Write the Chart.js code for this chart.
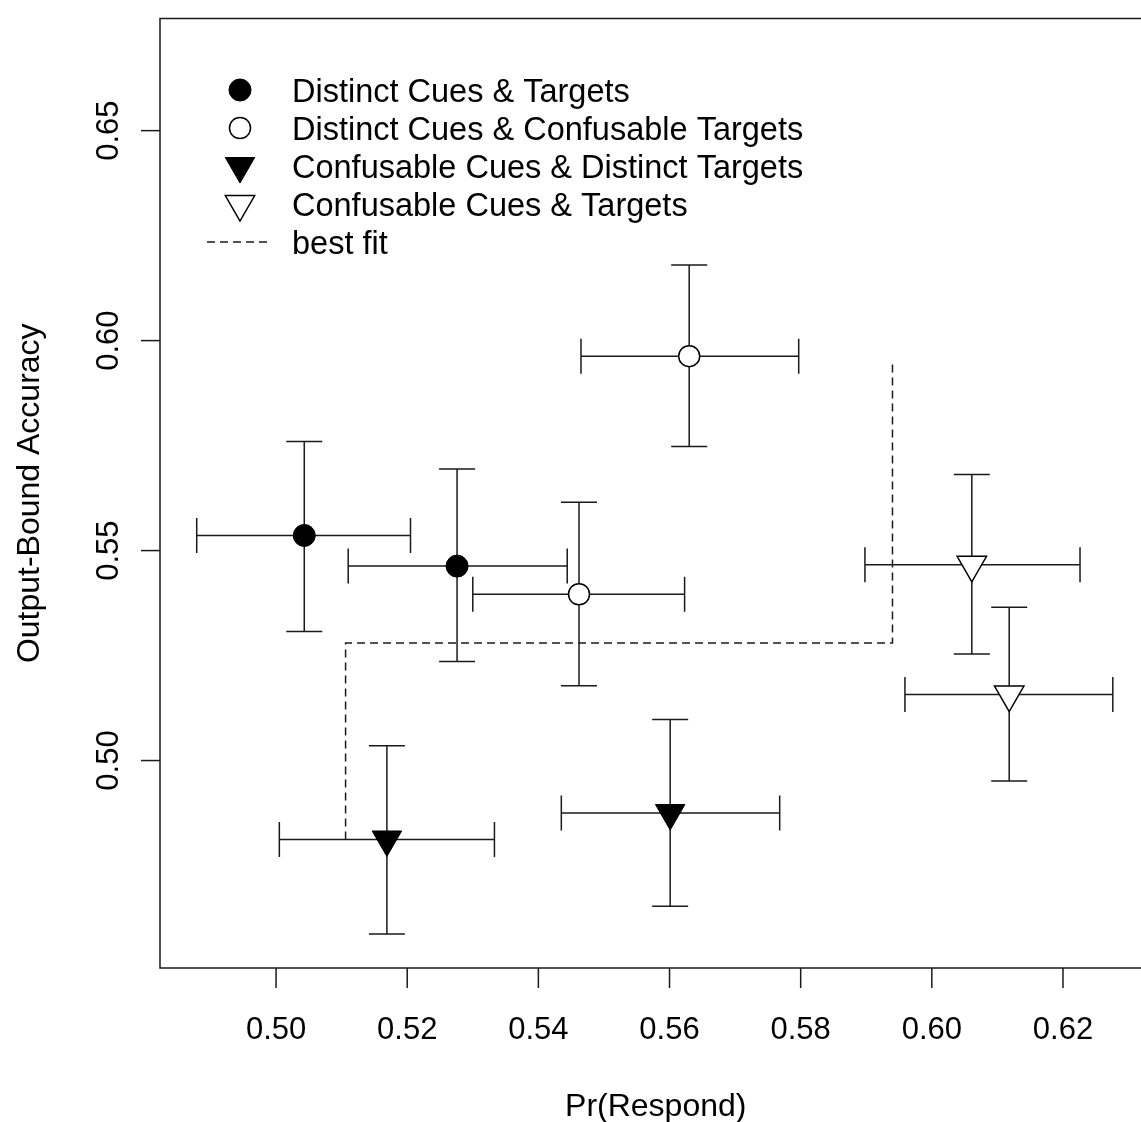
<!DOCTYPE html>
<html>
<head>
<meta charset="utf-8">
<script src="https://cdn.jsdelivr.net/npm/chart.js@4/dist/chart.umd.min.js"></script>
<style>
  html, body { margin: 0; padding: 0; overflow: hidden; background: #fff; }
  #wrap { width: 1170px; height: 1122px; }
</style>
</head>
<body>
<div id="wrap"><canvas id="chart" width="1170" height="1122"></canvas></div>
<script>
// Output-bound accuracy vs Pr(Respond), two items per condition, with SE bars.
const conditions = [
  "Distinct Cues & Targets",
  "Distinct Cues & Confusable Targets",
  "Confusable Cues & Distinct Targets",
  "Confusable Cues & Targets",
];

// Pr(Respond): mean, lower and upper end of the horizontal bar
const respond   = [[0.5043, 0.5276], [0.5630, 0.5462], [0.5169, 0.5601], [0.6061, 0.6118]];
const respondLo = [[0.4879, 0.5110], [0.5465, 0.5300], [0.5005, 0.5435], [0.5898, 0.5959]];
const respondHi = [[0.5205, 0.5444], [0.5797, 0.5623], [0.5333, 0.5768], [0.6226, 0.6276]];

// Output-bound accuracy: mean, lower and upper end of the vertical bar
const accuracy   = [[0.5536, 0.5463], [0.5963, 0.5396], [0.4812, 0.4875], [0.5466, 0.5157]];
const accuracyLo = [[0.5307, 0.5236], [0.5748, 0.5178], [0.4587, 0.4653], [0.5254, 0.4951]];
const accuracyHi = [[0.5760, 0.5694], [0.6180, 0.5615], [0.5035, 0.5098], [0.5681, 0.5365]];

// step-shaped best fit
const fitX = [0.5106, 0.5106, 0.5940, 0.5940];
const fitY = [0.4812, 0.5280, 0.5280, 0.5952];

const xTicks = [0.50, 0.52, 0.54, 0.56, 0.58, 0.60, 0.62];
const yTicks = [0.50, 0.55, 0.60, 0.65];

const FONT = '"Liberation Sans", Arial, Helvetica, sans-serif';
const INK = "#1a1a1a";

// marker look per condition: filled circle, open circle, filled / open down triangle
const markers = [
  { pointStyle: "circle",   radius: 11,   rotation: 0,   fill: "#000", border: "#000", width: 1 },
  { pointStyle: "circle",   radius: 10.5, rotation: 0,   fill: "#fff", border: "#000", width: 1.5 },
  { pointStyle: "triangle", radius: 17,   rotation: 180, fill: "#000", border: "#000", width: 1 },
  { pointStyle: "triangle", radius: 17,   rotation: 180, fill: "#fff", border: "#000", width: 1.5 },
];

const datasets = conditions.map((name, i) => ({
  label: name,
  data: respond[i].map((x, j) => ({ x, y: accuracy[i][j] })),
  pointStyle: markers[i].pointStyle,
  pointRadius: markers[i].radius,
  pointRotation: markers[i].rotation,
  backgroundColor: markers[i].fill,
  borderColor: markers[i].border,
  borderWidth: markers[i].width,
  showLine: false,
}));

datasets.push({
  label: "best fit",
  type: "line",
  data: fitX.map((x, i) => ({ x, y: fitY[i] })),
  borderColor: INK,
  borderWidth: 1.5,
  borderDash: [8, 5],
  pointRadius: 0,
  fill: false,
  tension: 0,
});

function drawMarker(ctx, m, x, y) {
  ctx.save();
  ctx.fillStyle = m.fill;
  ctx.strokeStyle = m.border;
  ctx.lineWidth = m.width;
  ctx.beginPath();
  if (m.pointStyle === "circle") {
    ctx.arc(x, y, m.radius, 0, Math.PI * 2);
  } else {
    const r = m.radius;
    let a = (m.rotation * Math.PI) / 180;
    for (let k = 0; k < 3; k++) {
      const px = x + Math.sin(a) * r, py = y - Math.cos(a) * r;
      k === 0 ? ctx.moveTo(px, py) : ctx.lineTo(px, py);
      a += (2 * Math.PI) / 3;
    }
    ctx.closePath();
  }
  ctx.fill();
  ctx.stroke();
  ctx.restore();
}

// error bars under the markers
const errorBars = {
  id: "errorBars",
  beforeDatasetsDraw(chart) {
    const { ctx } = chart;
    const xs = chart.scales.x, ys = chart.scales.y;
    ctx.save();
    ctx.strokeStyle = INK;
    ctx.lineWidth = 1.5;
    conditions.forEach((_, i) => {
      respond[i].forEach((xv, j) => {
        const cx = xs.getPixelForValue(xv);
        const cy = ys.getPixelForValue(accuracy[i][j]);
        const x0 = xs.getPixelForValue(respondLo[i][j]);
        const x1 = xs.getPixelForValue(respondHi[i][j]);
        const y0 = ys.getPixelForValue(accuracyHi[i][j]);
        const y1 = ys.getPixelForValue(accuracyLo[i][j]);
        ctx.beginPath();
        ctx.moveTo(x0, cy); ctx.lineTo(x1, cy);
        ctx.moveTo(x0, cy - 17.5); ctx.lineTo(x0, cy + 17.5);
        ctx.moveTo(x1, cy - 17.5); ctx.lineTo(x1, cy + 17.5);
        ctx.moveTo(cx, y0); ctx.lineTo(cx, y1);
        ctx.moveTo(cx - 18, y0); ctx.lineTo(cx + 18, y0);
        ctx.moveTo(cx - 18, y1); ctx.lineTo(cx + 18, y1);
        ctx.stroke();
      });
    });
    ctx.restore();
  },
};

// R-style frame, ticks, labels and the legend in the top-left corner
const frame = {
  id: "frame",
  afterDraw(chart) {
    const { ctx, chartArea: a } = chart;
    const xs = chart.scales.x, ys = chart.scales.y;
    ctx.save();
    ctx.strokeStyle = INK;
    ctx.fillStyle = "#000";
    ctx.lineWidth = 1.5;
    ctx.strokeRect(a.left, a.top, a.right - a.left, a.bottom - a.top);

    ctx.font = "31px " + FONT;
    ctx.textAlign = "center";
    ctx.textBaseline = "alphabetic";
    xTicks.forEach((v) => {
      const px = xs.getPixelForValue(v);
      ctx.beginPath();
      ctx.moveTo(px, a.bottom); ctx.lineTo(px, a.bottom + 20);
      ctx.stroke();
      ctx.fillText(v.toFixed(2), px, 1039);
    });
    yTicks.forEach((v) => {
      const py = ys.getPixelForValue(v);
      ctx.beginPath();
      ctx.moveTo(a.left, py); ctx.lineTo(a.left - 19, py);
      ctx.stroke();
      ctx.save();
      ctx.translate(118, py);
      ctx.rotate(-Math.PI / 2);
      ctx.fillText(v.toFixed(2), 0, 0);
      ctx.restore();
    });

    ctx.font = "32px " + FONT;
    ctx.fillText("Pr(Respond)", (a.left + a.right) / 2, 1116);
    ctx.save();
    ctx.translate(39, (a.top + a.bottom) / 2);
    ctx.rotate(-Math.PI / 2);
    ctx.fillText("Output-Bound Accuracy", 0, 0);
    ctx.restore();

    // legend
    ctx.font = "32.5px " + FONT;
    ctx.textAlign = "left";
    const rowY = [90, 128, 166, 204, 242];
    conditions.forEach((name, i) => {
      drawMarker(ctx, markers[i], 240, rowY[i]);
      ctx.fillStyle = "#000";
      ctx.fillText(name, 292, rowY[i] + 12);
    });
    ctx.save();
    ctx.setLineDash([8, 5]);
    ctx.beginPath();
    ctx.moveTo(207, rowY[4]); ctx.lineTo(270, rowY[4]);
    ctx.stroke();
    ctx.restore();
    ctx.fillText("best fit", 292, rowY[4] + 12);
    ctx.restore();
  },
};

new Chart(document.getElementById("chart"), {
  type: "scatter",
  data: { datasets },
  options: {
    responsive: false,
    devicePixelRatio: 1,
    animation: false,
    layout: { padding: { left: 160, top: 14, right: 15, bottom: 154 } },
    scales: {
      x: { type: "linear", display: false, min: 0.4823, max: 0.6335 },
      y: { type: "linear", display: false, min: 0.4506, max: 0.6767 },
    },
    plugins: { legend: { display: false }, tooltip: { enabled: false } },
  },
  plugins: [errorBars, frame],
});
</script>
</body>
</html>
